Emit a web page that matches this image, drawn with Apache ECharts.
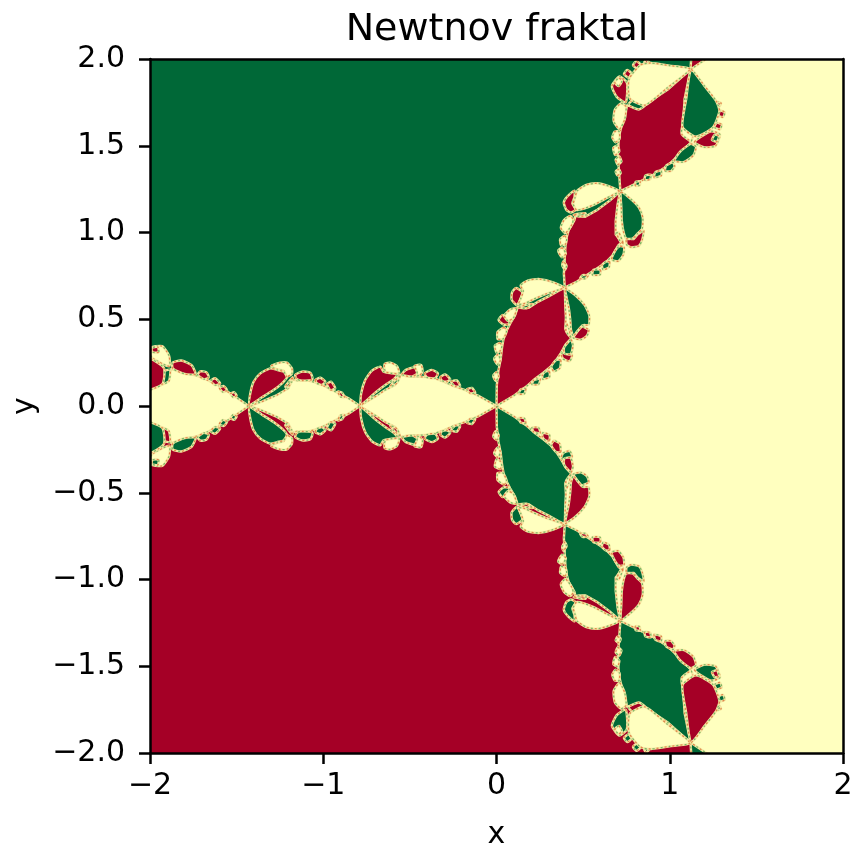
<!DOCTYPE html>
<html><head><meta charset="utf-8">
<style>html,body{margin:0;padding:0;background:#fff}#c{width:852px;height:846px;filter:blur(0.4px)}</style>
<script src="https://cdn.jsdelivr.net/npm/echarts@6/dist/echarts.min.js"></script></head>
<body><div id="c"></div>
<script>
// Each pair is [distance along the band, distance off the band]; the picture repeats the band
// on its other two arms and mirrored, with the three colours exchanged.
const colours = {Y:'#ffffbf', G:'#006837', R:'#a50026'};
const xTicks = [-2,-1,0,1,2];
const yTicks = [-2,-1.5,-1,-0.5,0,0.5,1,1.5,2];
const sectorGreen = [[0,0],[2.2,3.81],[-6,3.81],[-6,0]];
const sectorRed = [[0,0],[-6,0],[-6,-3.81],[2.2,-3.81]];
const sectorYellow = [[0,0],[2.2,3.81],[6,3.81],[6,-3.81],[2.2,-3.81]];
const lens1 = [[0,0],[.104,.058],[.181,.092],[.248,.115],[.306,.140],[.373,.165],[.45,.169],[.508,.169],[.556,.179],[.585,.121],[.642,.092],[.70,.054],[.758,.019],[.788,0]];
const lens2 = [[.788,0],[.854,.044],[.912,.073],[.969,.102],[1.027,.131],[1.085,.146],[1.152,.146],[1.181,.154],[1.2,.102],[1.267,.063],[1.354,.025],[1.427,0]];
const lens3 = [[1.43,0],[1.523,.063],[1.612,.122],[1.70,.165],[1.772,.186],[1.877,.213],[1.91,.138],[2.074,.056],[2.24,0]];
const lens4 = [[2.24,0],[2.3,.03],[2.4,.08],[2.7,.15],[3.1,0]];
const redLobes = [
 [[.785,.004],[.781,.073],[.758,.150],[.719,.204],[.671,.227],[.652,.198],[.604,.188],[.571,.183],[.594,.154],[.642,.121],[.700,.077],[.758,.025]],
 [[.546,.181],[.523,.208],[.473,.222],[.458,.188],[.488,.169]],
 [[.415,.188],[.373,.208],[.338,.188],[.354,.160],[.402,.165]],
 [[.325,.165],[.296,.182],[.267,.154],[.287,.140],[.315,.146]],
 [[.262,.14],[.229,.148],[.21,.115],[.238,.112]],
 [[.171,.096],[.142,.104],[.123,.077],[.152,.073]],
 [[1.427,.006],[1.421,.073],[1.402,.140],[1.363,.188],[1.306,.217],[1.267,.208],[1.229,.198],[1.21,.165],[1.238,.131],[1.287,.092],[1.354,.05]],
 [[1.162,.179],[1.123,.198],[1.075,.192],[1.062,.154],[1.123,.146],[1.152,.154]],
 [[1.046,.15],[1.017,.163],[.988,.14],[1.008,.121],[1.037,.131]],
 [[.979,.127],[.954,.14],[.931,.102],[.96,.092]],
 [[.915,.083],[.892,.077],[.877,.05],[.902,.054]],
 [[2.24,.004],[2.198,.117],[2.157,.218],[2.116,.264],[2.014,.279],[1.92,.22],[1.93,.125],[2.079,.064]],
 [[1.737,.183],[1.80,.185],[1.868,.215],[1.87,.25],[1.82,.262],[1.76,.235]],
 [[1.66,.165],[1.69,.155],[1.725,.18],[1.71,.2],[1.675,.195]],
 [[1.595,.13],[1.625,.12],[1.65,.145],[1.625,.16]],
 [[1.555,.09],[1.58,.08],[1.6,.105],[1.575,.115]],
 [[1.5,.06],[1.52,.05],[1.535,.07],[1.515,.08]]
];
const yellowLobes = [
 [[.646,.242],[.613,.25],[.575,.231],[.562,.188],[.594,.188],[.642,.198]],
 [[.473,.231],[.435,.237],[.427,.198],[.446,.173],[.462,.185]],
 [[1.3,.231],[1.248,.25],[1.21,.25],[1.181,.217],[1.181,.185],[1.21,.169],[1.229,.204],[1.267,.212]],
 [[1.889,.229],[1.99,.28],[2.0,.335],[1.93,.345],[1.89,.29]],
 [[2.02,.285],[2.05,.285],[2.055,.315],[2.025,.32]],
 [[2.09,.27],[2.12,.265],[2.125,.295],[2.095,.3]],
 [[2.13,.225],[2.155,.225],[2.16,.25],[2.135,.25]]
];
const greenLobes = [
 [[.556,.173],[.575,.131],[.613,.112],[.594,.140]],
 [[1.177,.165],[1.181,.14],[1.21,.102],[1.219,.112]],
 [[1.935,.124],[1.891,.143],[1.884,.209],[1.923,.198]]
];
const redSpots = [[[1.95,.31],[1.985,.31],[1.99,.335],[1.955,.34]]];

const orientations = [
 {turn:0,    flip:1,  map:{Y:'Y',G:'G',R:'R'}},
 {turn:0,    flip:-1, map:{Y:'Y',G:'R',R:'G'}},
 {turn:-120, flip:1,  map:{Y:'R',G:'Y',R:'G'}},
 {turn:-120, flip:-1, map:{Y:'R',G:'G',R:'Y'}},
 {turn:120,  flip:1,  map:{Y:'G',G:'R',R:'Y'}},
 {turn:120,  flip:-1, map:{Y:'G',G:'Y',R:'R'}}
];
function place(p,o){
  const a=o.turn*Math.PI/180, x=-p[0], y=p[1]*o.flip;
  return [x*Math.cos(a)-y*Math.sin(a), x*Math.sin(a)+y*Math.cos(a)];
}
const shapes=[
 {pts:sectorGreen,c:'G',edge:false,sharp:true},{pts:sectorRed,c:'R',edge:false,sharp:true},{pts:sectorYellow,c:'Y',edge:false,sharp:true}
];
[lens1,lens2,lens3,lens4].forEach(l=>{
  [0,2,4].forEach(i=>{
    const o=orientations[i], m=orientations[i+1];
    const upper=l.map(p=>place(p,o));
    const lower=l.slice(1,-1).reverse().map(p=>place(p,m));
    shapes.push({pts:upper.concat(lower),c:o.map.Y,edge:true,sharp:true});
  });
});
orientations.forEach(o=>{
  [[yellowLobes,'Y'],[greenLobes,'G'],[redLobes,'R'],[redSpots,'R']].forEach(([set,k])=>{
    set.forEach(l=>shapes.push({pts:l.map(p=>place(p,o)),c:o.map[k],edge:true}));
  });
});
const minus=v=>String(v).replace('-','\u2212');
const font='"DejaVu Sans"';
const chart=echarts.init(document.getElementById('c'),null,{renderer:'canvas'});
function renderItem(params,api){
  const s=shapes[params.dataIndex];
  const points=s.pts.map(p=>api.coord(p));
  const smooth=s.sharp?0:0.2;
  const kids=[{type:'polygon',shape:{points,smooth},style:{fill:colours[s.c],stroke:s.edge?'#f3e8a2':colours[s.c],lineWidth:s.edge?2.4:0.5}}];
  if(s.edge){
    kids.push({type:'polygon',shape:{points,smooth},style:{fill:'none',stroke:'#e0854a',lineWidth:1.3,lineDash:[2,6]}});
    kids.push({type:'polygon',shape:{points,smooth},style:{fill:'none',stroke:'#7cb765',lineWidth:1.3,lineDash:[2,6],lineDashOffset:4}});
  }
  return {type:'group',children:kids};
}
const axisBase={min:-2,max:2,
  axisLine:{show:true,onZero:false,lineStyle:{color:'#000',width:2.5}},
  axisTick:{show:true,length:11,lineStyle:{color:'#000',width:2.5}},
  splitLine:{show:false},z:20};
const frame={min:-2,max:2,axisLine:{show:true,onZero:false,lineStyle:{color:'#000',width:2.5}},axisTick:{show:false},axisLabel:{show:false},splitLine:{show:false},z:20};
chart.setOption({
  animation:false,backgroundColor:'#fff',
  title:{text:'Newtnov fraktal',left:492,top:6,textAlign:'center',textStyle:{fontFamily:font,fontSize:38,fontWeight:'normal',color:'#000'}},
  grid:{left:150,top:59,width:693,height:694,containLabel:false,outerBoundsMode:'none'},
  xAxis:[Object.assign({},axisBase,{type:'value',position:'bottom',interval:1,name:'x',nameLocation:'middle',nameGap:67,
      nameTextStyle:{fontFamily:font,fontSize:30,color:'#000'},
      axisLabel:{fontFamily:font,fontSize:30,color:'#000',margin:18,formatter:v=>minus(v),customValues:xTicks}}),
    Object.assign({},frame,{type:'value',position:'top'})],
  yAxis:[Object.assign({},axisBase,{type:'value',position:'left',interval:0.5,name:'y',nameLocation:'middle',nameGap:110,
      nameTextStyle:{fontFamily:font,fontSize:30,color:'#000'},
      axisLabel:{fontFamily:font,fontSize:30,color:'#000',margin:25,formatter:v=>minus(v.toFixed(1))}}),
    Object.assign({},frame,{type:'value',position:'right'})],
  series:[{type:'custom',coordinateSystem:'cartesian2d',clip:true,silent:true,renderItem,
    data:shapes.map((s,i)=>[s.pts[0][0],s.pts[0][1],i]),z:2}]
});
</script></body></html>
